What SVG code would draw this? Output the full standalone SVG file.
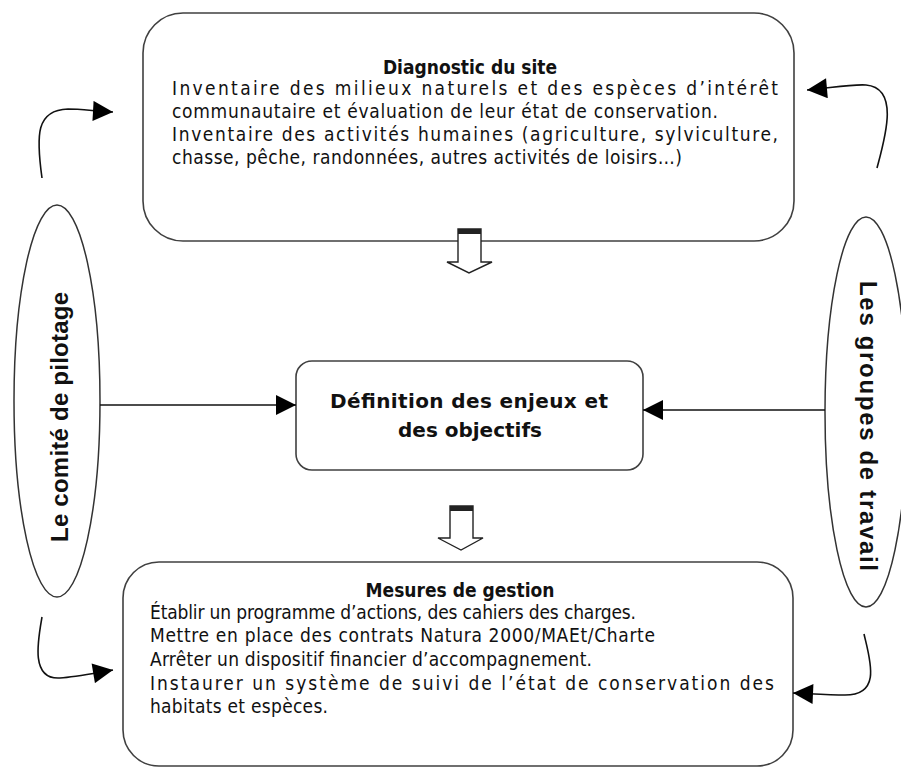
<svg xmlns="http://www.w3.org/2000/svg" width="901" height="771" viewBox="0 0 901 771">
<defs>
<style>
.box{fill:#fff;stroke:#404040;stroke-width:1.6}
.ell{fill:#fff;stroke:#333;stroke-width:1.5}
.con{fill:none;stroke:#111;stroke-width:1.6}
.t{font-family:"DejaVu Sans Condensed","DejaVu Sans",Verdana,sans-serif;font-stretch:condensed;font-size:19px;fill:#111}
.tb{font-family:"DejaVu Sans Condensed","DejaVu Sans",Verdana,sans-serif;font-stretch:condensed;font-size:19px;font-weight:bold;fill:#111;text-anchor:middle}
.tm{font-family:"DejaVu Sans",Verdana,sans-serif;font-size:20px;font-weight:bold;fill:#111;text-anchor:middle}
.tv{font-family:"Liberation Sans",Arial,sans-serif;font-size:24px;font-weight:bold;fill:#111;text-anchor:middle;dominant-baseline:central}
.blk{fill:#fff;stroke:#222;stroke-width:1.4}
</style>
<marker id="ah" viewBox="0 0 10 10" refX="10" refY="5" markerWidth="22" markerHeight="20" markerUnits="userSpaceOnUse" orient="auto">
<path d="M0,0 L10,5 L0,10 z" fill="#000"/>
</marker>
</defs>
<rect width="901" height="771" fill="#fff"/>

<g id="diagnostic">
<rect class="box" x="143" y="13" width="651" height="228" rx="40" ry="40"/>
<text class="tb" x="470" y="74">Diagnostic du site</text>
<text class="t" x="172" y="95" textLength="606">Inventaire des milieux naturels et des espèces d’intérêt</text>
<text class="t" x="172" y="118" textLength="546">communautaire et évaluation de leur état de conservation.</text>
<text class="t" x="172" y="141" textLength="606">Inventaire des activités humaines (agriculture, sylviculture,</text>
<text class="t" x="172" y="164" textLength="510">chasse, pêche, randonnées, autres activités de loisirs…)</text>
</g>

<g id="enjeux">
<rect class="box" x="296" y="361" width="347" height="109" rx="16" ry="16"/>
<text class="tm" x="469" y="408" textLength="278">Définition des enjeux et</text>
<text class="tm" x="470" y="437" textLength="144">des objectifs</text>
</g>

<g id="mesures">
<rect class="box" x="123" y="562" width="670" height="204" rx="36" ry="36"/>
<text class="tb" x="460" y="597">Mesures de gestion</text>
<text class="t" x="150" y="619" textLength="486">Établir un programme d’actions, des cahiers des charges.</text>
<text class="t" x="150" y="642" textLength="505">Mettre en place des contrats Natura 2000/MAEt/Charte</text>
<text class="t" x="150" y="666" textLength="442">Arrêter un dispositif financier d’accompagnement.</text>
<text class="t" x="150" y="690" textLength="624">Instaurer un système de suivi de l’état de conservation des</text>
<text class="t" x="150" y="713" textLength="178">habitats et espèces.</text>
</g>

<g id="comite">
<ellipse class="ell" cx="57" cy="401" rx="43" ry="196"/>
<text class="tv" transform="translate(59,417) rotate(-90)" x="0" y="0" textLength="250">Le comité de pilotage</text>
</g>

<g id="groupes">
<ellipse class="ell" cx="866" cy="412" rx="41" ry="195"/>
<text class="tv" transform="translate(868,426) rotate(90)" x="0" y="0" textLength="290">Les groupes de travail</text>
</g>

<g id="connectors">
<path class="con" d="M100 405 L296 405" marker-end="url(#ah)"/>
<path class="con" d="M825 410 L643 410" marker-end="url(#ah)"/>
<path class="con" d="M42 178 C36 135 36 110 68 109 C80 109 95 111 113 112" marker-end="url(#ah)"/>
<path class="con" d="M877 168 C885 138 900 88 866 85 C852 84 830 88 807 90" marker-end="url(#ah)"/>
<path class="con" d="M42 617 C38 640 30 680 60 678 C75 677 95 673 113 670" marker-end="url(#ah)"/>
<path class="con" d="M864 634 C870 660 882 695 845 695 C830 695 815 694 793 693" marker-end="url(#ah)"/>
<g id="down1">
<path class="blk" d="M458 229 L481 229 L481 262 L492 262 L469 273 L447 262 L458 262 Z"/>
<rect x="458" y="229" width="23" height="5" fill="#222"/>
</g>
<g id="down2">
<path class="blk" d="M450 506 L473 506 L473 538 L483 538 L461 550 L438 538 L450 538 Z"/>
<rect x="450" y="506" width="23" height="5" fill="#222"/>
</g>
</g>
</svg>
